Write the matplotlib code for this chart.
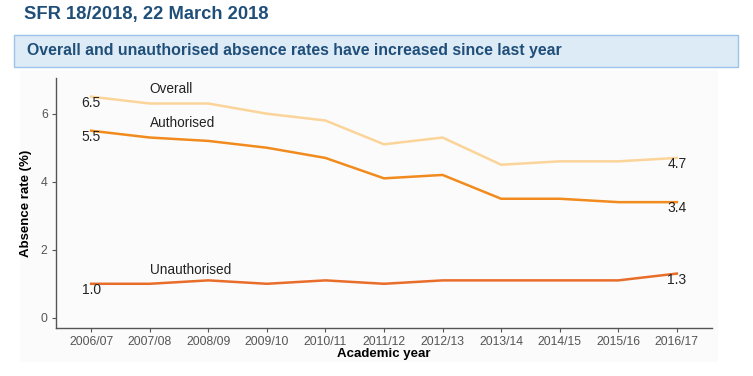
import numpy as np
import matplotlib.pyplot as plt
from matplotlib.patches import Rectangle

years = ['2006/07', '2007/08', '2008/09', '2009/10', '2010/11', '2011/12',
         '2012/13', '2013/14', '2014/15', '2015/16', '2016/17']
overall = [6.5, 6.3, 6.3, 6.0, 5.8, 5.1, 5.3, 4.5, 4.6, 4.6, 4.7]
authorised = [5.5, 5.3, 5.2, 5.0, 4.7, 4.1, 4.2, 3.5, 3.5, 3.4, 3.4]
unauthorised = [1.0, 1.0, 1.1, 1.0, 1.1, 1.0, 1.1, 1.1, 1.1, 1.1, 1.3]

c_over = '#FBD49A'
c_auth = '#F18B1E'
c_unauth = '#E96D2A'
navy = '#1F4E79'

plt.rcParams['font.family'] = ['Liberation Sans', 'DejaVu Sans']

fig = plt.figure(figsize=(7.53, 3.76), dpi=100)
W, H = 753.0, 376.0

# titles
fig.text(24 / W, 1 - 15 / H, 'SFR 18/2018, 22 March 2018', fontsize=13.2,
         fontweight='bold', color=navy, va='center', ha='left')
box = Rectangle((14 / W, 1 - 67 / H), 724 / W, 32 / H,
                transform=fig.transFigure, facecolor='#DDEBF7',
                edgecolor='#9DC3E6', linewidth=1.0, zorder=-5)
fig.add_artist(box)
fig.text(27 / W, 1 - 51 / H,
         'Overall and unauthorised absence rates have increased since last year',
         fontsize=11.4, fontweight='bold', color=navy, va='center', ha='left')

# faint panel behind the chart
panel = Rectangle((20 / W, 1 - 362 / H), 698 / W, 292 / H,
                  transform=fig.transFigure, facecolor='#FBFBFB',
                  edgecolor='none', zorder=-10)
fig.add_artist(panel)

ax = fig.add_axes([56 / W, 1 - 328 / H, 656 / W, 250 / H])
ax.set_facecolor('none')

x = np.arange(len(years))
ax.plot(x, overall, color=c_over, linewidth=1.8)
ax.plot(x, authorised, color=c_auth, linewidth=1.8)
ax.plot(x, unauthorised, color=c_unauth, linewidth=1.8)

ax.set_xlim(-0.6, 10.6)
ax.set_ylim(-0.3, 7.05)
ax.set_xticks(x)
ax.set_xticklabels(years)
ax.set_yticks([0, 2, 4, 6])
ax.tick_params(colors='#555555', labelsize=8.8, length=3, width=0.8, pad=3)
for s in ['top', 'right']:
    ax.spines[s].set_visible(False)
for s in ['left', 'bottom']:
    ax.spines[s].set_color('#555555')
    ax.spines[s].set_linewidth(1.0)

ax.set_xlabel('Academic year', fontsize=9.5, fontweight='bold', labelpad=0)
ax.set_ylabel('Absence rate (%)', fontsize=9.5, fontweight='bold', labelpad=6)

# series labels
ax.text(1, 6.74, 'Overall', fontsize=9.8, color='#222222',
        ha='left', va='center')
ax.text(1, 5.74, 'Authorised', fontsize=9.8, color='#222222',
        ha='left', va='center')
ax.text(1, 1.41, 'Unauthorised', fontsize=9.8, color='#222222',
        ha='left', va='center')

# value labels
for ser in [overall, authorised, unauthorised]:
    ax.text(0, ser[0] - 0.18, '%.1f' % ser[0], fontsize=10, color='#222222',
            ha='center', va='center')
    ax.text(10, ser[-1] - 0.18, '%.1f' % ser[-1], fontsize=10, color='#222222',
            ha='center', va='center')

fig.savefig('out.png', dpi=100)
